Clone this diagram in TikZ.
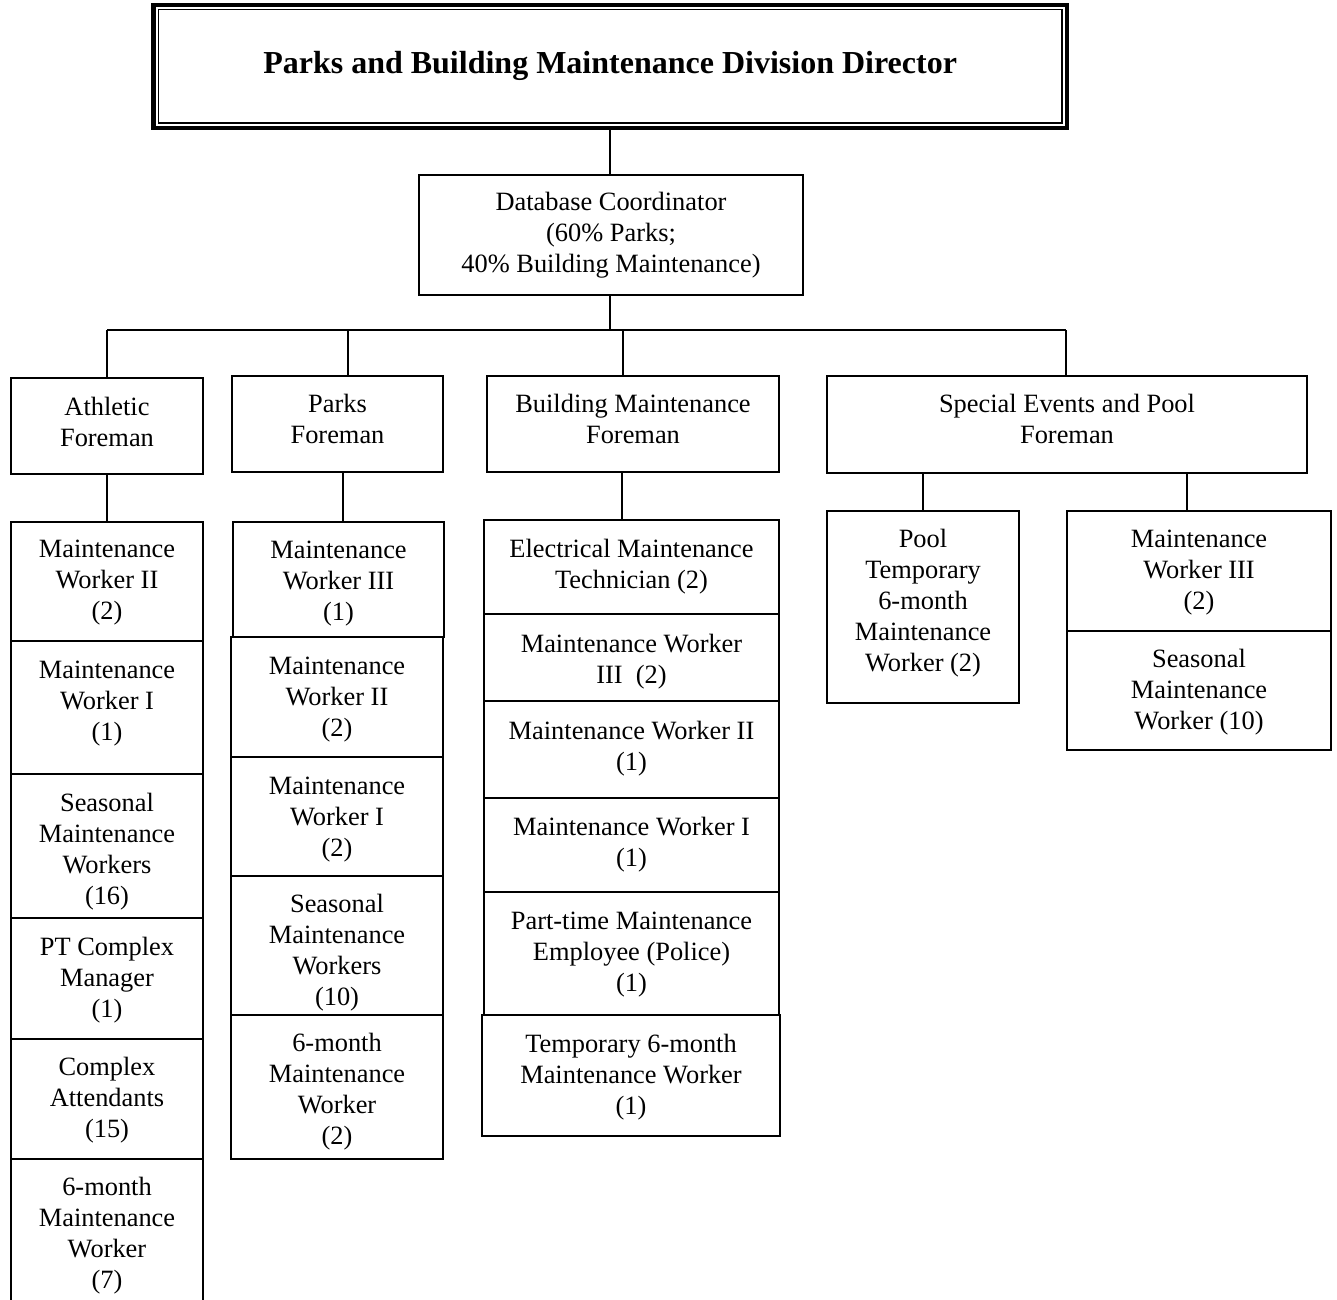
\documentclass[tikz,border=0pt]{standalone}
\usepackage{fontspec}
\setmainfont{Liberation Serif}
\begin{document}
\begin{tikzpicture}[x=0.75pt,y=-0.75pt,
  cell/.style={draw=black, line width=1.6pt, inner sep=0pt, outer sep=0pt},
  opencell/.style={draw=none, inner sep=0pt, outer sep=0pt},
  celltext/.style={inner sep=0pt, align=center,
    font=\fontsize{19.8pt}{23.25pt}\selectfont},
  link/.style={draw=black, line width=1.6pt},
  titlecell/.style={draw=black, line width=3.2pt, inner sep=0pt, outer sep=0pt},
  titletext/.style={inner sep=0pt, align=center,
    font=\fontsize{24pt}{28pt}\selectfont\bfseries}]
% box: name, left, top, right, bottom (pixel units), frame style, text, text offset
\newcommand{\orgbox}[8]{%
  \node[#6, minimum width={(#4-#2)*0.75pt}, minimum height={(#5-#3)*0.75pt}] (#1) at ({(#2+#4)/2},{(#3+#5)/2}) {};
  \node[celltext] (#1-t) at ([yshift={-(#8)*0.75pt}]#1.center) {#7};}
\useasboundingbox (0,0) rectangle (1337,1299);

% director with double frame
\node[titlecell, minimum width={913.2*0.75pt}, minimum height={122.4*0.75pt}] (dir) at (610.1,66.5) {};
\node[titletext] (dir-t) at ([yshift={1*0.75pt}]dir.center) {Parks and Building Maintenance Division Director};
\draw[line width=1.1pt] ([shift={(4.8,4.4)}]dir.north west) rectangle ([shift={(-4.8,-4.8)}]dir.south east);

\orgbox{db}{419}{175}{803}{295}{cell}{Database Coordinator\\(60\% Parks;\\40\%  Building Maintenance)}{0}

% foremen
\orgbox{af}{11}{378}{203}{474}{cell}{Athletic\\Foreman}{-4.5}
\orgbox{pf}{232}{376}{443}{472}{cell}{Parks\\Foreman}{-5}
\orgbox{bf}{487}{376}{779}{472}{cell}{Building Maintenance\\Foreman}{-5}
\orgbox{se}{827}{376}{1307}{473}{cell}{Special Events and Pool\\Foreman}{-6}

% athletic column
\orgbox{aw1}{11}{522}{203}{641}{cell}{Maintenance\\Worker II\\(2)}{1}
\orgbox{aw2}{11}{641}{203}{774}{cell}{Maintenance\\Worker I\\(1)}{-4}
\orgbox{aw3}{11}{774}{203}{918}{cell}{Seasonal\\Maintenance\\Workers\\(16)}{6}
\orgbox{aw4}{11}{918}{203}{1039}{cell}{PT Complex\\Manager\\(1)}{2}
\orgbox{aw5}{11}{1039}{203}{1159}{cell}{Complex\\Attendants\\(15)}{1}
\orgbox{aw6}{11}{1159}{203}{1299}{opencell}{6-month\\Maintenance\\Worker\\(7)}{7}
\draw[link] ([yshift=-4pt]aw6.south west) -- (aw6.north west) -- (aw6.north east) -- ([yshift=-4pt]aw6.south east);

% parks column
\orgbox{pw1}{233}{522}{444}{637}{cell}{Maintenance\\Worker III\\(1)}{4}
\orgbox{pw2}{231}{637}{443}{757}{cell}{Maintenance\\Worker II\\(2)}{3}
\orgbox{pw3}{231}{757}{443}{876}{cell}{Maintenance\\Worker I\\(2)}{3}
\orgbox{pw4}{231}{876}{443}{1015}{cell}{Seasonal\\Maintenance\\Workers\\(10)}{7}
\orgbox{pw5}{231}{1015}{443}{1159}{cell}{6-month\\Maintenance\\Worker\\(2)}{5}

% building column
\orgbox{bw1}{484}{520}{779}{614}{cell}{Electrical Maintenance\\Technician (2)}{0}
\orgbox{bw2}{484}{614}{779}{701}{cell}{Maintenance Worker\\III\ \ (2)}{4}
\orgbox{bw3}{484}{701}{779}{798}{cell}{Maintenance Worker II\\(1)}{-1}
\orgbox{bw4}{484}{798}{779}{892}{cell}{Maintenance Worker I\\(1)}{0}
\orgbox{bw5}{484}{892}{779}{1015}{cell}{Part-time Maintenance\\Employee (Police)\\(1)}{1}
\orgbox{bw6}{482}{1015}{780}{1136}{cell}{Temporary 6-month\\Maintenance Worker\\(1)}{2}

% special events column
\orgbox{pool}{827}{511}{1019}{703}{cell}{Pool\\Temporary\\6-month\\Maintenance\\Worker (2)}{-4}
\orgbox{sw1}{1067}{511}{1331}{631}{cell}{Maintenance\\Worker III\\(2)}{2}
\orgbox{sw2}{1067}{631}{1331}{750}{cell}{Seasonal\\Maintenance\\Worker (10)}{2}

% connectors
\draw[link] (dir.south) -- (dir.south |- db.north);
\coordinate (busL) at (107,330);
\coordinate (busR) at (1066,330);
\draw[link] (db.south) ++(-1,0) coordinate (dbd) -- (dbd |- busL);
\draw[link] (busL) -- (busR);
\draw[link] (busL) -- (busL |- af.north);
\path (pf.north) ++(10.5,0) coordinate (pfu);
\draw[link] (pfu |- busL) -- (pfu);
\path (bf.north) ++(-10,0) coordinate (bfu);
\draw[link] (bfu |- busL) -- (bfu);
\draw[link] (busR) -- (busR |- se.north);

\draw[link] (af.south) -- (aw1.north);
\path (pf.south) ++(5.5,0) coordinate (pfd);
\draw[link] (pfd) -- (pfd |- pw1.north);
\path (bf.south) ++(-11,0) coordinate (bfd);
\draw[link] (bfd) -- (bfd |- bw1.north);
\draw[link] (se.south -| pool.north) -- (pool.north);
\path (sw1.north) ++(-12,0) coordinate (swu);
\draw[link] (swu |- se.south) -- (swu);
\end{tikzpicture}
\end{document}
